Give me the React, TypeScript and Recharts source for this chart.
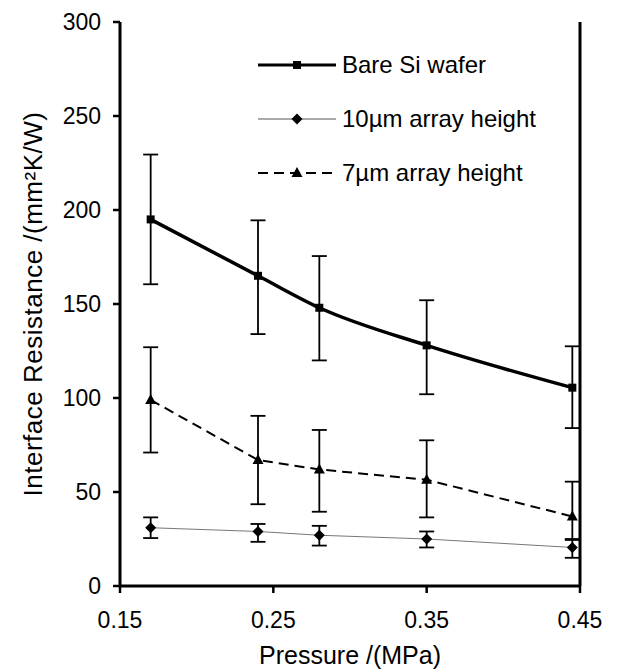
import {
  ComposedChart,
  ErrorBar,
  Label,
  Line,
  ReferenceLine,
  XAxis,
  YAxis,
} from "recharts";

const pressure = [0.17, 0.24, 0.28, 0.35, 0.445];

const bareSi = [195, 165, 148, 128, 105.5];
const bareSiLow = [160.5, 134, 120, 102, 84];
const bareSiHigh = [229.5, 194.5, 175.5, 152, 127.5];

const h10 = [31, 29, 27, 25, 20.5];
const h10Low = [25.5, 23.5, 21.5, 20.5, 15];
const h10High = [36.5, 33, 32, 29, 25];

const h7 = [99, 67, 62, 56.5, 37];
const h7Low = [71, 43.5, 39.5, 36.5, 24.5];
const h7High = [127, 90.5, 83, 77.5, 55.5];

const xTicks = [0.15, 0.25, 0.35, 0.45];
const yTicks = [0, 50, 100, 150, 200, 250, 300];

const FONT = "'Liberation Sans', Arial, sans-serif";

function rows(vals: number[], lo: number[], hi: number[]) {
  return pressure.map((p, i) => ({
    p,
    v: vals[i],
    err: [vals[i] - lo[i], hi[i] - vals[i]],
  }));
}

const bareData = rows(bareSi, bareSiLow, bareSiHigh);
const h10Data = rows(h10, h10Low, h10High);
const h7Data = rows(h7, h7Low, h7High);

const Square = (props: any) => {
  const { cx, cy } = props;
  return <rect key={`s${cx}`} x={cx - 4} y={cy - 4} width={8} height={8} fill="#000" />;
};
const Diamond = (props: any) => {
  const { cx, cy } = props;
  return (
    <path key={`d${cx}`} d={`M${cx},${cy - 5.5}L${cx + 5.5},${cy}L${cx},${cy + 5.5}L${cx - 5.5},${cy}Z`} fill="#000" />
  );
};
const Triangle = (props: any) => {
  const { cx, cy } = props;
  return (
    <path key={`t${cx}`} d={`M${cx},${cy - 6}L${cx + 5.5},${cy + 4}L${cx - 5.5},${cy + 4}Z`} fill="#000" />
  );
};

function LegendBox() {
  const items = [
    { name: "Bare Si wafer", w: 3, dash: undefined, color: "#000", mark: "sq" },
    { name: "10µm array height", w: 1, dash: undefined, color: "#555", mark: "di" },
    { name: "7µm array height", w: 2, dash: "10 6", color: "#000", mark: "tr" },
  ];
  return (
    <div style={{ position: "absolute", left: 258, top: 38, fontFamily: FONT, fontSize: 24, color: "#000" }}>
      {items.map((it) => (
        <div key={it.name} style={{ display: "flex", alignItems: "center", height: 54 }}>
          <svg width={80} height={20}>
            <line x1={0} x2={78} y1={10} y2={10} stroke={it.color} strokeWidth={it.w} strokeDasharray={it.dash} />
            {it.mark === "sq" && <rect x={35} y={6} width={8} height={8} fill="#000" />}
            {it.mark === "di" && <path d="M39,4.5L44.5,10L39,15.5L33.5,10Z" fill="#000" />}
            {it.mark === "tr" && <path d="M39,4L44.5,14L33.5,14Z" fill="#000" />}
          </svg>
          <span style={{ marginLeft: 4 }}>{it.name}</span>
        </div>
      ))}
    </div>
  );
}

export default function App() {
  const tick = { fill: "#000", fontSize: 23, fontFamily: FONT };
  return (
    <div style={{ position: "absolute", left: 0, top: 0, width: 617, height: 672, background: "#fff" }}>
      <ComposedChart width={617} height={672} margin={{ top: 22, right: 37, bottom: 0, left: 0 }}>
        <XAxis
          type="number"
          dataKey="p"
          domain={[0.15, 0.45]}
          ticks={xTicks}
          tickFormatter={(v) => v.toFixed(2)}
          allowDuplicatedCategory={false}
          height={86}
          tick={tick}
          tickSize={7}
          tickMargin={19}
          axisLine={{ stroke: "#000", strokeWidth: 3 }}
          tickLine={{ stroke: "#000", strokeWidth: 2.5 }}
        >
          <Label
            value="Pressure /(MPa)"
            position="insideBottom"
            offset={8}
            style={{ fill: "#000", fontSize: 25, fontFamily: FONT }}
          />
        </XAxis>
        <YAxis
          type="number"
          domain={[0, 300]}
          ticks={yTicks}
          width={120}
          tick={tick}
          tickSize={7}
          tickMargin={12}
          axisLine={{ stroke: "#000", strokeWidth: 3 }}
          tickLine={{ stroke: "#000", strokeWidth: 2.5 }}
        >
          <Label
            value="Interface Resistance /(mm²K/W)"
            angle={-90}
            position="insideLeft"
            offset={33}
            style={{ fill: "#000", fontSize: 26, fontFamily: FONT, textAnchor: "middle", letterSpacing: 0.5 }}
          />
        </YAxis>
        <ReferenceLine x={0.45} stroke="#000" strokeWidth={3} />
        <Line
          data={bareData}
          dataKey="v"
          name="Bare Si wafer"
          type="monotone"
          stroke="#000"
          strokeWidth={3.5}
          dot={Square}
          isAnimationActive={false}
        >
          <ErrorBar dataKey="err" width={7.5} stroke="#000" strokeWidth={1.8} direction="y" />
        </Line>
        <Line
          data={h10Data}
          dataKey="v"
          name="10µm array height"
          type="linear"
          stroke="#777"
          strokeWidth={1}
          dot={Diamond}
          isAnimationActive={false}
        >
          <ErrorBar dataKey="err" width={7.5} stroke="#000" strokeWidth={1.8} direction="y" />
        </Line>
        <Line
          data={h7Data}
          dataKey="v"
          name="7µm array height"
          type="linear"
          stroke="#000"
          strokeWidth={2}
          strokeDasharray="10 6"
          dot={Triangle}
          isAnimationActive={false}
        >
          <ErrorBar dataKey="err" width={7.5} stroke="#000" strokeWidth={1.8} direction="y" />
        </Line>
      </ComposedChart>
      <LegendBox />
    </div>
  );
}
